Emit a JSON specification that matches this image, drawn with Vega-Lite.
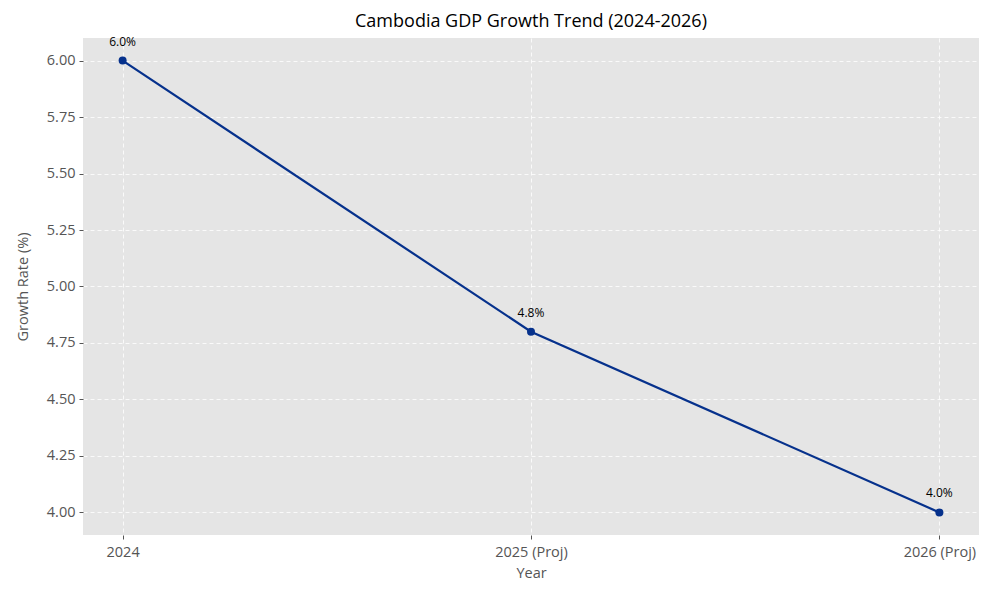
{
  "$schema": "https://vega.github.io/schema/vega-lite/v6.json",
  "width": 896,
  "height": 497,
  "autosize": {"type": "none"},
  "padding": {"left": 83, "top": 38, "right": 21, "bottom": 65},
  "background": "white",
  "config": {
    "font": "Open Sans",
    "view": {"fill": "#e5e5e5", "stroke": null},
    "axis": {
      "domain": false,
      "grid": true,
      "gridColor": "white",
      "gridDash": [4, 3],
      "gridWidth": 0.8,
      "tickColor": "#555555",
      "tickSize": 4,
      "labelColor": "#555555",
      "labelFontSize": 14.5,
      "labelFont": "Open Sans",
      "titleColor": "#555555",
      "titleFontSize": 14.5,
      "titleFontWeight": "normal",
      "titleFont": "Open Sans"
    }
  },
  "title": {
    "text": "Cambodia GDP Growth Trend (2024-2026)",
    "fontSize": 18,
    "fontWeight": "normal",
    "font": "Open Sans",
    "color": "black",
    "offset": 5
  },
  "data": {
    "values": [
      {"year": "2024", "growth": 6.0, "label": "6.0%"},
      {"year": "2025 (Proj)", "growth": 4.8, "label": "4.8%"},
      {"year": "2026 (Proj)", "growth": 4.0, "label": "4.0%"}
    ]
  },
  "encoding": {
    "x": {
      "field": "year",
      "type": "ordinal",
      "sort": null,
      "scale": {"type": "point", "padding": 0.097},
      "axis": {"title": "Year", "labelAngle": 0, "labelPadding": 6, "titlePadding": 8}
    },
    "y": {
      "field": "growth",
      "type": "quantitative",
      "scale": {"domain": [3.9, 6.1], "nice": false, "zero": false},
      "axis": {"title": "Growth Rate (%)", "values": [4.0, 4.25, 4.5, 4.75, 5.0, 5.25, 5.5, 5.75, 6.0], "format": ".2f", "labelPadding": 4, "titlePadding": 16}
    }
  },
  "layer": [
    {"mark": {"type": "line", "color": "#06318c", "strokeWidth": 2.2}},
    {"mark": {"type": "point", "filled": true, "color": "#06318c", "size": 64, "opacity": 1}},
    {"mark": {"type": "text", "dy": -19, "fontSize": 12, "color": "black", "font": "Open Sans"}, "encoding": {"text": {"field": "label"}}}
  ]
}
